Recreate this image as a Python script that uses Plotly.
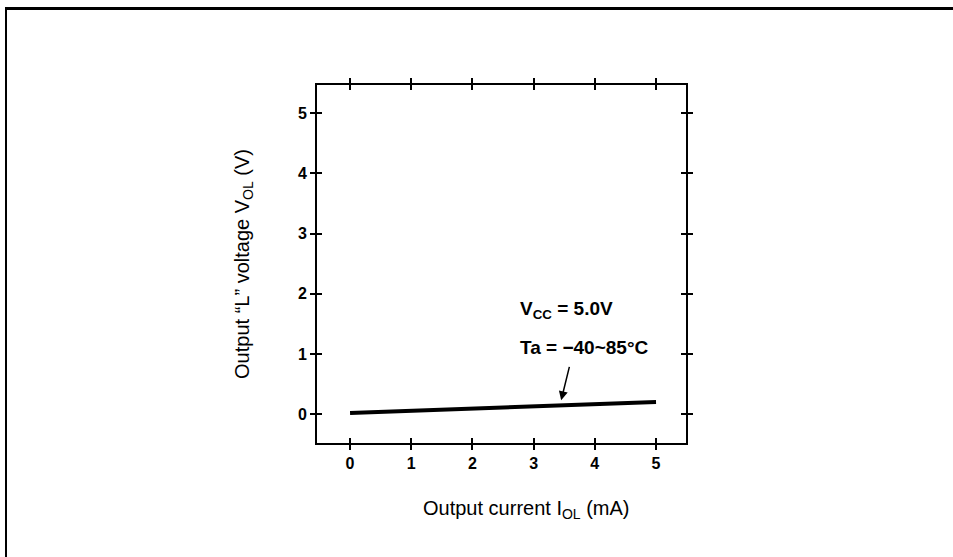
import plotly.graph_objects as go

# Data
current_mA = [0, 5]
vol_V = [0.02, 0.20]
x_ticks = [0, 1, 2, 3, 4, 5]
y_ticks = [0, 1, 2, 3, 4, 5]
x_title = "Output current I<sub>OL</sub> (mA)"
y_title = "Output \u201cL\u201d voltage V<sub>OL</sub> (V)"

W, H = 953, 557
L, R, T, B = 317, 686, 85, 443  # plot area pixel box

fig = go.Figure()
fig.add_trace(go.Scatter(x=current_mA, y=vol_V, mode="lines",
                         line=dict(color="black", width=4), showlegend=False))
# invisible trace on overlay axes so they render
fig.add_trace(go.Scatter(x=current_mA, y=vol_V, mode="lines", xaxis="x2", yaxis="y2",
                         line=dict(color="rgba(0,0,0,0)"), showlegend=False, hoverinfo="skip"))

font_fam = "Liberation Sans, Arial, sans-serif"
xr = [-0.54, 5.49]
yr = [-0.48, 5.47]

common = dict(showgrid=False, zeroline=False, showline=True, linecolor="black", linewidth=2,
              mirror="ticks", ticks="outside", ticklen=5, tickwidth=1.5, tickcolor="black")

fig.update_layout(
    width=W, height=H,
    margin=dict(l=L, r=W - R, t=T, b=H - B, pad=0),
    paper_bgcolor="white", plot_bgcolor="white",
    font=dict(family=font_fam, color="black"),
    xaxis=dict(range=xr, tickvals=x_ticks, ticktext=[str(v) for v in x_ticks],
               tickfont=dict(size=16, weight="bold"), **common),
    yaxis=dict(range=yr, tickvals=y_ticks, ticktext=[str(v) for v in y_ticks],
               tickfont=dict(size=16, weight="bold"),
               title=dict(text=y_title, font=dict(size=20), standoff=43),
               **common),
    xaxis2=dict(range=xr, overlaying="x", tickvals=x_ticks, showticklabels=False,
                showgrid=False, zeroline=False, showline=False, ticks="inside", ticklen=5,
                tickwidth=1.5, tickcolor="black", mirror="ticks", anchor="y2"),
    yaxis2=dict(range=yr, overlaying="y", tickvals=y_ticks, showticklabels=False,
                showgrid=False, zeroline=False, showline=False, ticks="inside", ticklen=5,
                tickwidth=1.5, tickcolor="black", mirror="ticks", anchor="x2"),
)

pw, ph = R - L, B - T
def px(xp): return (xp - L) / pw
def py(yp): return (B - yp) / ph

# X-axis title (offset to the right, as in the reference)
fig.add_annotation(x=px(526), y=py(509), xref="paper", yref="paper", text=x_title,
                   showarrow=False, xanchor="center", yanchor="middle",
                   font=dict(size=20))

# Annotations
fig.add_annotation(x=2.75, y=1.73, xref="x", yref="y", text="V<sub>CC</sub> = 5.0V",
                   showarrow=False, xanchor="left", yanchor="middle",
                   font=dict(size=19, weight="bold"))
fig.add_annotation(x=2.75, y=1.10, xref="x", yref="y", text="Ta = \u221240~85\u00b0C",
                   showarrow=False, xanchor="left", yanchor="middle",
                   font=dict(size=19, weight="bold"))
fig.add_annotation(x=3.45, y=0.23, ax=3.59, ay=0.81, xref="x", yref="y", axref="x", ayref="y",
                   text="", showarrow=True, arrowhead=2, arrowsize=1.2, arrowwidth=1.5,
                   arrowcolor="black")

# Page frame (top and left lines)
fig.add_shape(type="line", xref="paper", yref="paper", x0=px(5), y0=py(8.5), x1=px(953), y1=py(8.5),
              line=dict(color="black", width=3))
fig.add_shape(type="line", xref="paper", yref="paper", x0=px(6), y0=py(8), x1=px(6), y1=py(557),
              line=dict(color="black", width=2))

fig.write_html("out.html", config={"displayModeBar": False},
               post_script="document.body.style.margin='0';")
